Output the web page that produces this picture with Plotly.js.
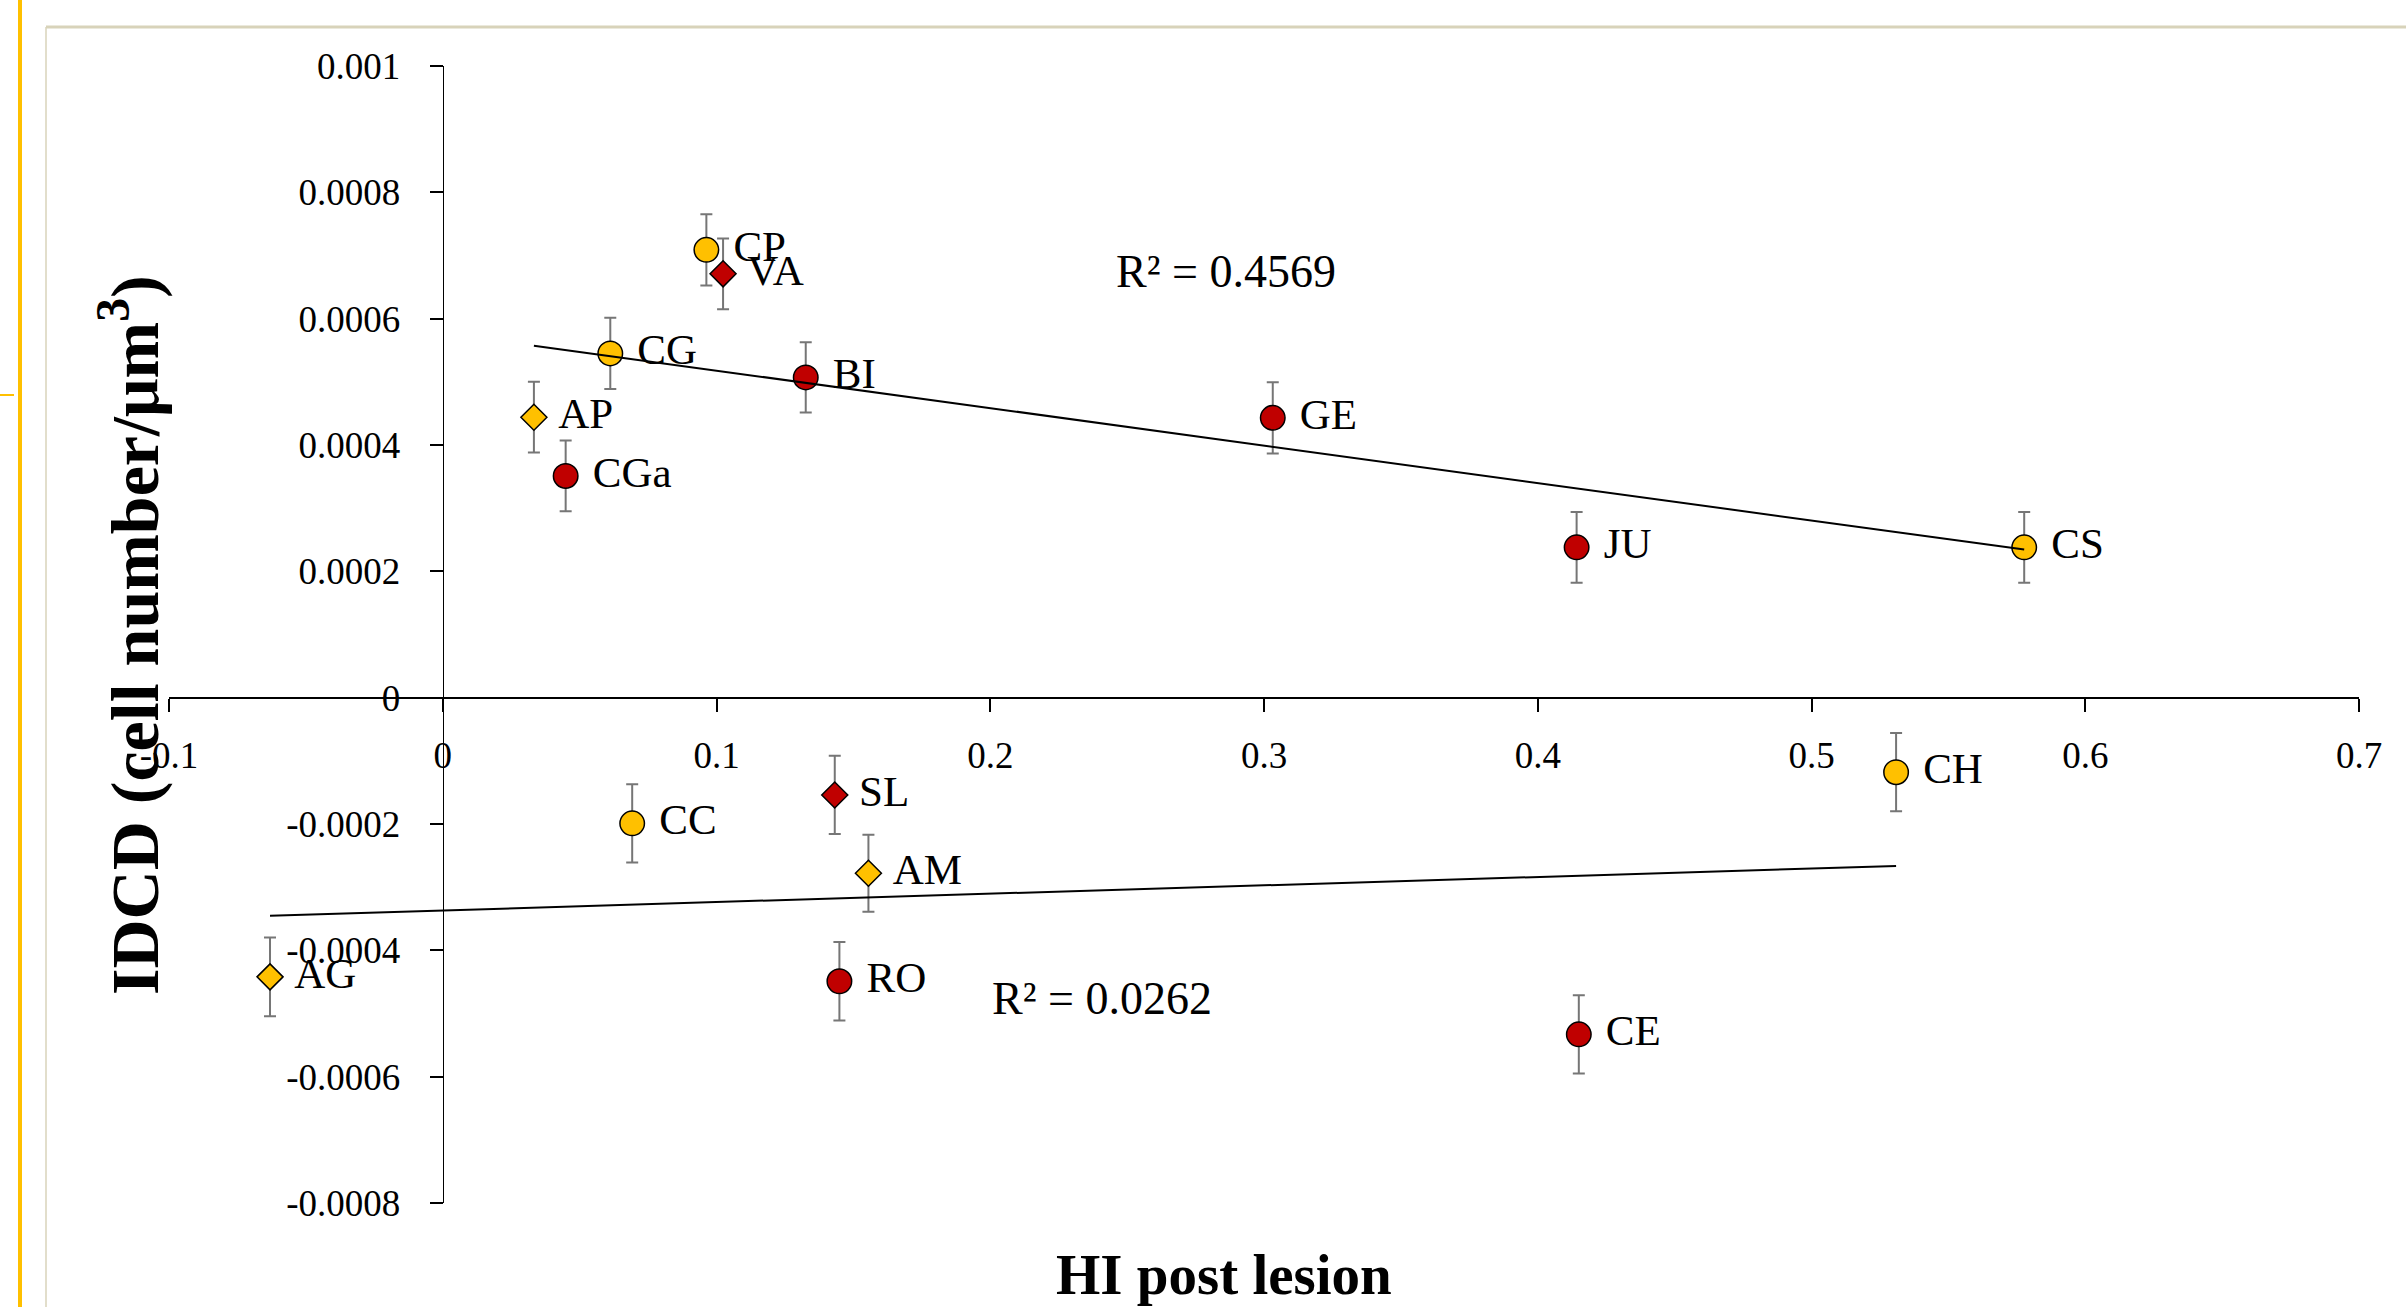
<!DOCTYPE html>
<html>
<head>
<meta charset="utf-8">
<script src="https://cdn.plot.ly/plotly-3.0.1.min.js"></script>
<style>
html,body{margin:0;padding:0;background:#fff;}
#chart{width:2406px;height:1307px;}
</style>
</head>
<body>
<div id="chart"></div>
<script>
// ---- data ----
const labels = ['CP','VA','CG','BI','AP','CGa','GE','JU','CS','CH','SL','CC','AM','AG','RO','CE'];
const hiPostLesion = [0.0963,0.1024,0.0612,0.1326,0.0333,0.0449,0.3032,0.4142,0.5777,0.5309,0.1432,0.0692,0.1555,-0.0631,0.1449,0.4150];
const idcd = [0.000709,0.000671,0.000545,0.000507,0.000444,0.000351,0.000443,0.000238,0.000238,-0.000118,-0.000154,-0.000199,-0.000278,-0.000442,-0.000449,-0.000533];
const idcdError = [0.0000565,0.000056,0.0000565,0.0000555,0.000056,0.000056,0.0000565,0.000056,0.000056,0.000062,0.000062,0.000062,0.000061,0.0000625,0.000062,0.000062];
const colourClass = ['Y','R','Y','R','Y','R','R','R','Y','Y','R','Y','Y','Y','R','R'];
const shapeClass  = ['o','d','o','o','d','o','o','o','o','o','d','o','d','d','o','o'];
const xTickVals = [-0.1,0,0.1,0.2,0.3,0.4,0.5,0.6,0.7];
const xTickText = ['-0.1','0','0.1','0.2','0.3','0.4','0.5','0.6','0.7'];
const yTickVals = [0.001,0.0008,0.0006,0.0004,0.0002,0,-0.0002,-0.0004,-0.0006,-0.0008];
const yTickText = ['0.001','0.0008','0.0006','0.0004','0.0002','0','-0.0002','-0.0004','-0.0006','-0.0008'];
const r2Labels = ['R² = 0.4569','R² = 0.0262'];
const xTitle = 'HI post lesion';
const yTitle = 'IDCD (cell number/μm<sup>3</sup>)';

// ---- styling ----
const FONT = 'Liberation Serif';
const colourMap = {Y:'#FFC000', R:'#C00000'};
const symbolMap = {o:'circle', d:'diamond'};
const sizeMap = {o:24.5, d:20};

const points = {
  type:'scatter', mode:'markers+text',
  x: hiPostLesion, y: idcd,
  text: labels.map(s => '\u00a0' + s),
  textposition:'middle right',
  textfont:{family:FONT, size:43, color:'#000'},
  marker:{
    color: colourClass.map(c => colourMap[c]),
    symbol: shapeClass.map(s => symbolMap[s]),
    size: shapeClass.map(s => sizeMap[s]),
    opacity:1,
    line:{color:'#000', width:1.5}
  },
  error_y:{type:'data', array:idcdError, visible:true, color:'#767676', thickness:2, width:6},
  showlegend:false, hoverinfo:'x+y+text', cliponaxis:false
};

function trend(pred){
  const xs=[], ys=[];
  hiPostLesion.forEach((x,i)=>{ if(pred(idcd[i])){ xs.push(x); ys.push(idcd[i]); } });
  const n=xs.length;
  const mx=xs.reduce((a,b)=>a+b,0)/n, my=ys.reduce((a,b)=>a+b,0)/n;
  let sxy=0, sxx=0;
  for(let i=0;i<n;i++){ sxy+=(xs[i]-mx)*(ys[i]-my); sxx+=(xs[i]-mx)*(xs[i]-mx); }
  const b=sxy/sxx, a=my-b*mx;
  const x0=Math.min(...xs), x1=Math.max(...xs);
  return {type:'scatter', mode:'lines', x:[x0,x1], y:[a+b*x0, a+b*x1],
          line:{color:'#000', width:2}, showlegend:false, hoverinfo:'skip'};
}
const upperTrend = trend(v => v >= 0);
const lowerTrend = trend(v => v < 0);

// pixel helpers for decorative frame (paper coords)
const L=169, R=47, T=66, B=104, W=2406, H=1307;
const pw=W-L-R, ph=H-T-B;
const px = p => (p-L)/pw;
const py = p => (H-B-p)/ph;

const layout = {
  width:W, height:H,
  margin:{l:L, r:R, t:T, b:B, pad:0},
  paper_bgcolor:'#fff', plot_bgcolor:'#fff',
  font:{family:FONT, color:'#000'},
  showlegend:false,
  xaxis:{
    range:[-0.1,0.7], anchor:'free', position:0.0008/0.0018,
    showline:true, linecolor:'#000', linewidth:2.5,
    ticks:'outside', ticklen:13, tickwidth:2, tickcolor:'#000',
    tickmode:'array', tickvals:xTickVals, ticktext:xTickText,
    tickfont:{family:FONT, size:37, color:'#000'},
    ticklabelstandoff:11,
    showgrid:false, zeroline:false, fixedrange:true
  },
  yaxis:{
    range:[-0.0008,0.001], anchor:'free', position:0.1/0.8,
    showline:true, linecolor:'#000', linewidth:1.5,
    ticks:'outside', ticklen:13, tickwidth:2, tickcolor:'#000',
    tickmode:'array', tickvals:yTickVals, ticktext:yTickText,
    tickfont:{family:FONT, size:37, color:'#000'},
    ticklabelstandoff:22,
    showgrid:false, zeroline:false, fixedrange:true
  },
  annotations:[
    {xref:'x', yref:'y', x:0.2452, y:0.000675, xanchor:'left', yanchor:'middle',
     text:r2Labels[0], showarrow:false, font:{family:FONT, size:46, color:'#000'}},
    {xref:'x', yref:'y', x:0.1998, y:-0.000477, xanchor:'left', yanchor:'middle',
     text:r2Labels[1], showarrow:false, font:{family:FONT, size:46, color:'#000'}},
    {xref:'paper', yref:'paper', x:px(1224), y:py(1274), xanchor:'center', yanchor:'middle',
     text:'<b>'+xTitle+'</b>', showarrow:false, font:{family:FONT, size:57, color:'#000'}},
    {xref:'paper', yref:'paper', x:px(130), y:py(635), xanchor:'center', yanchor:'middle',
     textangle:-90, text:'<b>'+yTitle+'</b>', showarrow:false, font:{family:FONT, size:68, color:'#000'}}
  ],
  shapes:[
    {type:'line', xref:'paper', yref:'paper', x0:px(20), x1:px(20), y0:py(0), y1:py(H),
     line:{color:'#FFC000', width:4}, layer:'below'},
    {type:'line', xref:'paper', yref:'paper', x0:px(0), x1:px(14), y0:py(395), y1:py(395),
     line:{color:'#FFC000', width:2}, layer:'below'},
    {type:'line', xref:'paper', yref:'paper', x0:px(46), x1:px(W), y0:py(27), y1:py(27),
     line:{color:'#D8D3BA', width:3}, layer:'below'},
    {type:'line', xref:'paper', yref:'paper', x0:px(46), x1:px(46), y0:py(27), y1:py(H),
     line:{color:'#D8D3BA', width:1.5}, layer:'below'}
  ]
};

Plotly.newPlot('chart', [points, upperTrend, lowerTrend], layout, {displayModeBar:false, staticPlot:true});
</script>
</body>
</html>
